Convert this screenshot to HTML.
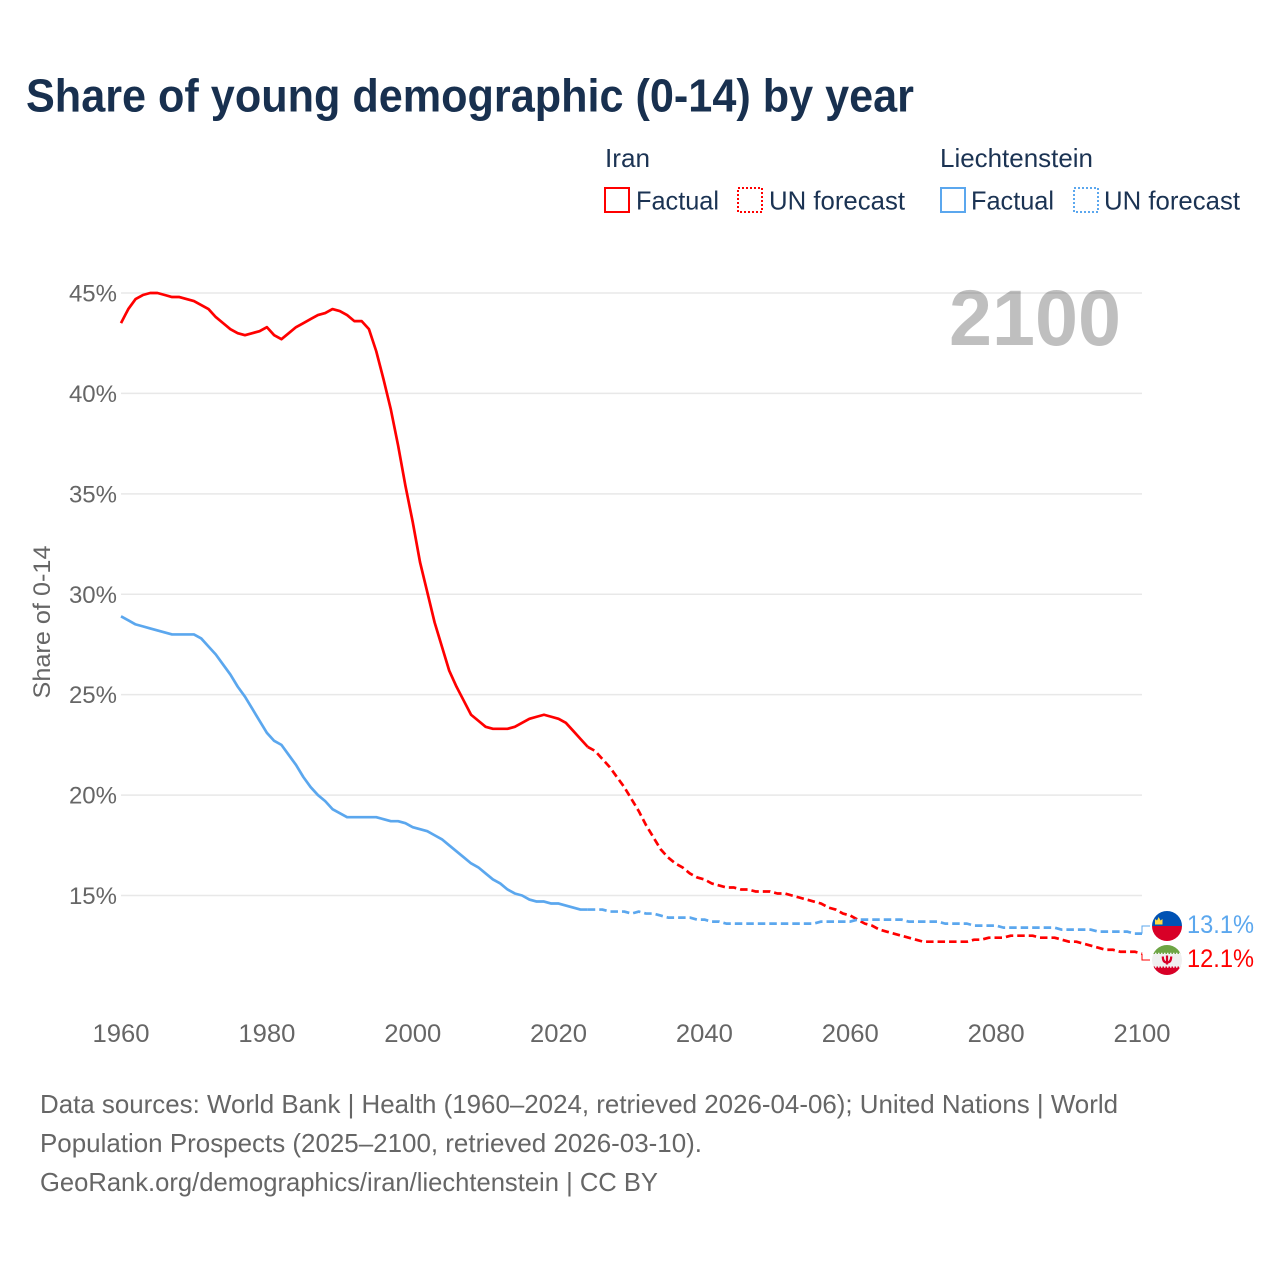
<!DOCTYPE html>
<html lang="en">
<head>
<meta charset="utf-8">
<title>Share of young demographic (0-14) by year</title>
<style>
html,body{margin:0;padding:0;background:#fff;}
svg{display:block;font-family:"Liberation Sans",sans-serif;}
</style>
</head>
<body>
<svg id="chart" xmlns="http://www.w3.org/2000/svg" width="1280" height="1280" viewBox="0 0 1280 1280">
  <defs>
    <clipPath id="flag-clip-li"><circle cx="1167" cy="926" r="15"/></clipPath>
    <clipPath id="flag-clip-ir"><circle cx="1167" cy="960" r="15"/></clipPath>
  </defs>
  <rect width="1280" height="1280" fill="#fff"/>
  <text x="26" y="111.500" font-size="46" font-weight="700" fill="#18304f" textLength="888" lengthAdjust="spacingAndGlyphs">Share of young demographic (0-14) by year</text>

  <g font-size="26" fill="#1b3353">
    <text x="605" y="167" textLength="45" lengthAdjust="spacingAndGlyphs">Iran</text>
    <text x="940" y="167" textLength="153" lengthAdjust="spacingAndGlyphs">Liechtenstein</text>
    <rect x="605" y="188" width="24" height="24" fill="none" stroke="#ff0000" stroke-width="2"/>
    <text x="636" y="209.500" textLength="83" lengthAdjust="spacingAndGlyphs">Factual</text>
    <rect x="738" y="188" width="24" height="24" fill="none" stroke="#ff0000" stroke-width="2" stroke-dasharray="2 2"/>
    <text x="769" y="209.500" textLength="136" lengthAdjust="spacingAndGlyphs">UN forecast</text>
    <rect x="941" y="188" width="24" height="24" fill="none" stroke="#5ba7ee" stroke-width="2"/>
    <text x="971" y="209.500" textLength="83" lengthAdjust="spacingAndGlyphs">Factual</text>
    <rect x="1074" y="188" width="24" height="24" fill="none" stroke="#5ba7ee" stroke-width="2" stroke-dasharray="2 2"/>
    <text x="1104" y="209.500" textLength="136" lengthAdjust="spacingAndGlyphs">UN forecast</text>
  </g>

  <g id="grid"></g>
  <g id="yticks"></g>
  <g id="xticks"></g>
  <text transform="translate(50,622) rotate(-90)" text-anchor="middle" font-size="24" fill="#666" textLength="153" lengthAdjust="spacingAndGlyphs">Share of 0-14</text>
  <text x="949" y="345" font-size="79" font-weight="700" fill="#000" fill-opacity="0.25" textLength="172" lengthAdjust="spacingAndGlyphs">2100</text>
  <g id="series"></g>
  <g id="ends"></g>

  <g>
    <g clip-path="url(#flag-clip-li)">
      <rect x="1152" y="911" width="30" height="15" fill="#0052b4"/>
      <rect x="1152" y="926" width="30" height="15" fill="#d80027"/>
      <path d="M1155 919l2 1.500 1.700-3.500 1.800 3.500 2-1.500v5.500h-7.500z" fill="#ffda44"/>
    </g>
  </g>
  <g>
    <g clip-path="url(#flag-clip-ir)">
      <rect x="1152" y="945" width="30" height="30" fill="#f0f0f0"/>
      <rect x="1152" y="945" width="30" height="9" fill="#6da544"/>
      <rect x="1152" y="966.500" width="30" height="9" fill="#d80027"/>
      <line x1="1152" x2="1182" y1="953.500" y2="953.500" stroke="#f0f0f0" stroke-width="1.500" stroke-dasharray="1.500 1.500"/>
      <line x1="1152" x2="1182" y1="967" y2="967" stroke="#f0f0f0" stroke-width="1.500" stroke-dasharray="1.500 1.500"/>
      <path d="M1162.800 956.500c0 4.500 1.800 6 4.200 6s4.200-1.500 4.200-6M1167 955.500v9" fill="none" stroke="#d80027" stroke-width="2.200"/>
    </g>
  </g>

  <g font-size="26" fill="#666">
    <text x="40" y="1113" textLength="1078" lengthAdjust="spacingAndGlyphs">Data sources: World Bank | Health (1960–2024, retrieved 2026-04-06); United Nations | World</text>
    <text x="40" y="1152" textLength="662" lengthAdjust="spacingAndGlyphs">Population Prospects (2025–2100, retrieved 2026-03-10).</text>
    <text x="40" y="1191" textLength="618" lengthAdjust="spacingAndGlyphs">GeoRank.org/demographics/iran/liechtenstein | CC BY</text>
  </g>
</svg>
<script>
const factualStartYear = 1960;
const forecastStartYear = 2025;
const xTickYears = [1960, 1980, 2000, 2020, 2040, 2060, 2080, 2100];
const yTickValues = [15, 20, 25, 30, 35, 40, 45];
const iranFactual = [43.5,44.2,44.7,44.9,45.0,45.0,44.9,44.8,44.8,44.7,44.6,44.4,44.2,43.8,43.5,43.2,43.0,42.9,43.0,43.1,43.3,42.9,42.7,43.0,43.3,43.5,43.7,43.9,44.0,44.2,44.1,43.9,43.6,43.6,43.2,42.1,40.7,39.2,37.4,35.4,33.6,31.6,30.1,28.6,27.4,26.2,25.4,24.7,24.0,23.7,23.4,23.3,23.3,23.3,23.4,23.6,23.8,23.9,24.0,23.9,23.8,23.6,23.2,22.8,22.4];
const iranForecast = [22.2,21.8,21.4,20.9,20.4,19.8,19.2,18.5,17.9,17.3,16.9,16.6,16.4,16.1,15.9,15.8,15.6,15.5,15.4,15.4,15.3,15.3,15.2,15.2,15.2,15.1,15.1,15.0,14.9,14.8,14.7,14.6,14.4,14.3,14.1,14.0,13.8,13.6,13.5,13.3,13.2,13.1,13.0,12.9,12.8,12.7,12.7,12.7,12.7,12.7,12.7,12.7,12.8,12.8,12.9,12.9,12.9,13.0,13.0,13.0,13.0,12.9,12.9,12.9,12.8,12.7,12.7,12.6,12.5,12.4,12.3,12.3,12.2,12.2,12.2,12.1];
const liechFactual = [28.9,28.7,28.5,28.4,28.3,28.2,28.1,28.0,28.0,28.0,28.0,27.8,27.4,27.0,26.5,26.0,25.4,24.9,24.3,23.7,23.1,22.7,22.5,22.0,21.5,20.9,20.4,20.0,19.7,19.3,19.1,18.9,18.9,18.9,18.9,18.9,18.8,18.7,18.7,18.6,18.4,18.3,18.2,18.0,17.8,17.5,17.2,16.9,16.6,16.4,16.1,15.8,15.6,15.3,15.1,15.0,14.8,14.7,14.7,14.6,14.6,14.5,14.4,14.3,14.3];
const liechForecast = [14.3,14.3,14.2,14.2,14.2,14.1,14.2,14.1,14.1,14.0,13.9,13.9,13.9,13.9,13.8,13.8,13.7,13.7,13.6,13.6,13.6,13.6,13.6,13.6,13.6,13.6,13.6,13.6,13.6,13.6,13.6,13.7,13.7,13.7,13.7,13.7,13.8,13.8,13.8,13.8,13.8,13.8,13.8,13.7,13.7,13.7,13.7,13.7,13.6,13.6,13.6,13.6,13.5,13.5,13.5,13.5,13.4,13.4,13.4,13.4,13.4,13.4,13.4,13.4,13.3,13.3,13.3,13.3,13.3,13.2,13.2,13.2,13.2,13.2,13.1,13.1];
const iranEndLabel = "12.1%";
const liechEndLabel = "13.1%";

const SVGNS = "http://www.w3.org/2000/svg";
const IRAN_COLOR = "#ff0000";
const LIECH_COLOR = "#5ba7ee";
function x(year) { return 121 + (year - 1960) * (1142 - 121) / 140; }
function y(value) { return 895.5 - (value - 15) * (895.5 - 293) / 30; }
function make(tag, attrs, parent) {
  const el = document.createElementNS(SVGNS, tag);
  for (const k in attrs) el.setAttribute(k, attrs[k]);
  parent.appendChild(el);
  return el;
}
function pointsFrom(startYear, values) {
  return values.map(function (v, i) { return x(startYear + i).toFixed(2) + "," + y(v).toFixed(2); });
}

const gridGroup = document.getElementById("grid");
const yGroup = document.getElementById("yticks");
const xGroup = document.getElementById("xticks");
const seriesGroup = document.getElementById("series");
const endsGroup = document.getElementById("ends");

yTickValues.forEach(function (v) {
  const line = make("line", { x1: x(1960), x2: x(2100), y1: y(v), y2: y(v), stroke: "#e8e8e8", "stroke-width": 1.5 }, gridGroup);
  
  
  const label = make("text", { x: 117, y: y(v) + 8.5, "text-anchor": "end", "font-size": 24, fill: "#666" }, yGroup);
  label.textContent = v + "%";
  
  
});

xTickYears.forEach(function (yr) {
  const label = make("text", { x: x(yr), y: 1042, "text-anchor": "middle", "font-size": 25, fill: "#666", textLength: 57, lengthAdjust: "spacingAndGlyphs" }, xGroup);
  label.textContent = String(yr);
  
  
});

function drawSeries(factual, forecast, color, slug) {
  const solidPts = pointsFrom(factualStartYear, factual);
  const solid = make("polyline", { points: solidPts.join(" "), fill: "none", stroke: color, "stroke-width": 2.7, "stroke-linejoin": "round" }, seriesGroup);
  
  
  const dashPts = [solidPts[solidPts.length - 1]].concat(pointsFrom(forecastStartYear, forecast));
  const dash = make("polyline", { points: dashPts.join(" "), fill: "none", stroke: color, "stroke-width": 2.7, "stroke-dasharray": "7.5 4", "stroke-linejoin": "round" }, seriesGroup);
  
  
}
drawSeries(iranFactual, iranForecast, IRAN_COLOR, 'iran');
drawSeries(liechFactual, liechForecast, LIECH_COLOR, 'liechtenstein');

function drawEnd(forecast, text, color, labelY, slug) {
  const endY = y(forecast[forecast.length - 1]);
  const connector = make("polyline", { points: x(2100) + "," + endY + " 1142," + labelY + " 1150," + labelY, fill: "none", stroke: color, "stroke-width": 1 }, endsGroup);
  
  
  const label = make("text", { x: 1187, y: labelY + 7, "font-size": 25, fill: color, textLength: 67, lengthAdjust: "spacingAndGlyphs" }, endsGroup);
  label.textContent = text;
  
  
}
drawEnd(liechForecast, liechEndLabel, LIECH_COLOR, 926, 'liechtenstein');
drawEnd(iranForecast, iranEndLabel, IRAN_COLOR, 960, 'iran');
</script>
</body>
</html>
